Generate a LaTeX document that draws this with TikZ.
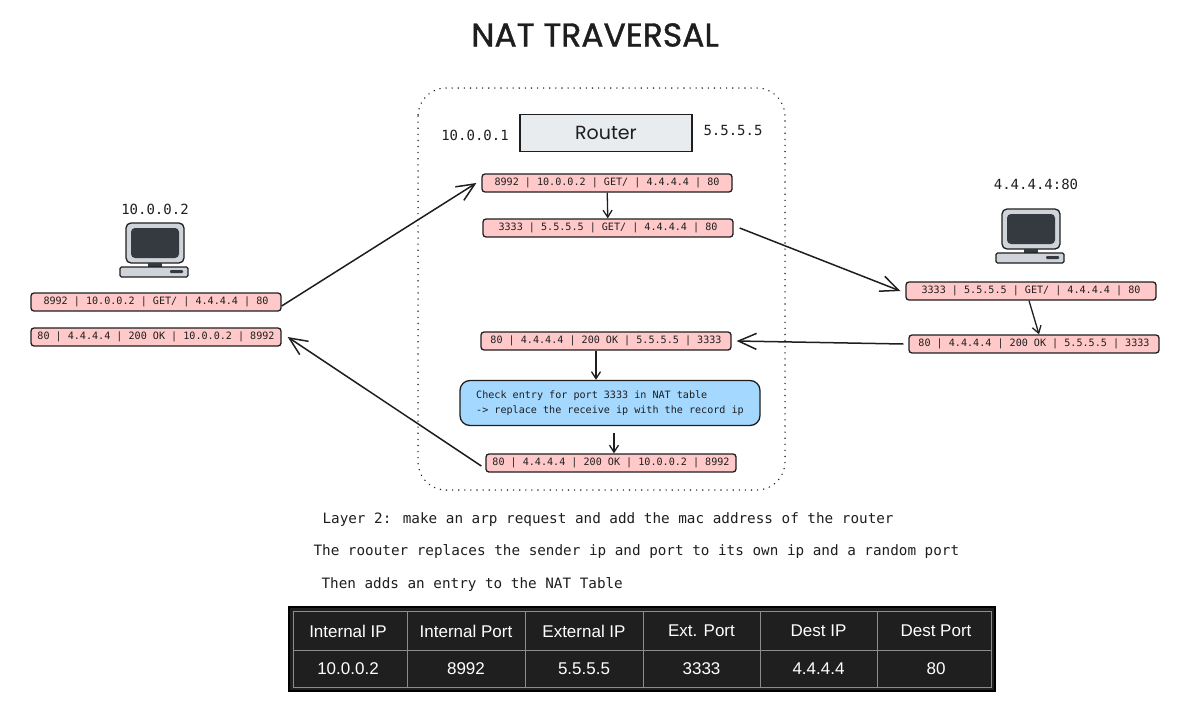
\documentclass[tikz,border=0pt]{standalone}
\usepackage{fontspec}
\setmainfont{Liberation Sans}
\newfontfamily\monofont{DejaVu Sans Mono}
\newfontfamily\handfont{Poppins}
\newfontfamily\titlefont[FakeBold=1.2]{Poppins}
\usetikzlibrary{arrows.meta,positioning}

\definecolor{ink}{HTML}{1E1E1E}
\definecolor{pktpink}{HTML}{FFC9C9}
\definecolor{notebl}{HTML}{A5D8FF}
\definecolor{routergr}{HTML}{E9ECEF}
\definecolor{screengr}{HTML}{343A40}
\definecolor{bodygr}{HTML}{CED4DA}
\definecolor{tabbg}{HTML}{1F1F1F}
\definecolor{tabline}{HTML}{8C8C8C}

\tikzset{
    pkt/.style={draw=ink, fill=pktpink, line width=1.3pt, rounded corners=3pt,
        minimum width=250pt, minimum height=18pt, inner xsep=4pt, inner ysep=0pt,
        font=\monofont\fontsize{10.1}{12}\selectfont, text=ink},
    ipl/.style={font=\monofont\fontsize{14}{16}\selectfont, text=ink},
    note/.style={font=\monofont\fontsize{14.3}{17}\selectfont, text=ink, anchor=west},
    tabtext/.style={font=\fontsize{17}{20}\selectfont, text=white},
    flow/.style={draw=ink, line width=1.5pt,
        -{Straight Barb[length=18pt,width=16pt,line width=1.5pt]}},
    hop/.style={draw=ink, line width=1.3pt,
        -{Straight Barb[length=7pt,width=9pt,line width=1.3pt]}},
    computer/.pic={
        \draw[ink, fill=bodygr, line width=1.3pt, rounded corners=5pt] (-29,0) rectangle (29,40);
        \fill[screengr, rounded corners=4pt] (-24,5) rectangle (24,35);
        \fill[screengr] (-7,40) rectangle (7,44);
        \draw[ink, fill=bodygr, line width=1.3pt, rounded corners=1.5pt] (-35,44) rectangle (33,54);
        \fill[screengr, rounded corners=1pt] (15,47) rectangle (28,50);
    }
}

\begin{document}
\begin{tikzpicture}[x=1pt,y=-1pt]
    \useasboundingbox (0,0) rectangle (1200,707);

    \node[font=\titlefont\fontsize{33}{38}\selectfont, text=ink] (title) at (595,35) {NAT TRAVERSAL};

    \draw[ink, line width=1.5pt, dash pattern=on 0.1pt off 6pt, line cap=round, rounded corners=28pt] (418,88) rectangle (785,490);

    \node[draw=ink, fill=routergr, line width=1.2pt, minimum width=172pt, minimum height=37pt,
        font=\handfont\fontsize{19}{22}\selectfont, text=ink] (router) at (606,133) {Router};
    \node[ipl] (lanip) at (475,135) {10.0.0.1};
    \node[ipl] (wanip) at (733,130) {5.5.5.5};

    \pic at (155,223) {computer};
    \pic at (1031,209) {computer};
    \node[ipl] (clientip) at (155,209) {10.0.0.2};
    \node[ipl] (serverip) at (1036,184) {4.4.4.4:80};

    \node[pkt] (creq) at (156,302) {8992 | 10.0.0.2 | GET/ | 4.4.4.4 | 80};
    \node[pkt] (cres) at (156,337) {80 | 4.4.4.4 | 200 OK | 10.0.0.2 | 8992};

    \node[pkt] (rin) at (607,183) {8992 | 10.0.0.2 | GET/ | 4.4.4.4 | 80};
    \node[pkt] (rout) at (608,228) {3333 | 5.5.5.5 | GET/ | 4.4.4.4 | 80};
    \node[pkt] (rback) at (606,341) {80 | 4.4.4.4 | 200 OK | 5.5.5.5 | 3333};
    \node[draw=ink, fill=notebl, line width=1.3pt, rounded corners=10pt, minimum width=300pt,
        minimum height=45pt, align=left, font=\monofont\fontsize{10.1}{15}\selectfont, text=ink]
        (check) at (610,403) {Check entry for port 3333 in NAT table\\ -> replace the receive ip with the record ip};
    \node[pkt] (rfwd) at (611,463) {80 | 4.4.4.4 | 200 OK | 10.0.0.2 | 8992};

    \node[pkt] (sreq) at (1031,291) {3333 | 5.5.5.5 | GET/ | 4.4.4.4 | 80};
    \node[pkt] (sres) at (1034,344) {80 | 4.4.4.4 | 200 OK | 5.5.5.5 | 3333};

    \draw[flow] ([yshift=-4pt]creq.east) -- ([xshift=-5pt]rin.west);
    \draw[hop] (rin) -- (rout);
    \draw[flow] ([xshift=6pt]rout.east) -- ([xshift=-5pt]sreq.west);
    \draw[hop] ([xshift=-2pt]sreq.south) -- ([xshift=5pt]sres.north);
    \draw[flow] ([xshift=-5pt]sres.west) -- ([xshift=5pt]rback.east);
    \draw[hop] ([xshift=-10pt]rback.south) -- ([xshift=-14pt]check.north);
    \draw[hop] ([xshift=4pt,yshift=-7pt]check.south) -- ([xshift=3pt]rfwd.north);
    \draw[flow] ([xshift=-4pt,yshift=-3pt]rfwd.west) -- ([xshift=6pt]cres.east);

    \node[note] (arp) at (319,520) {Layer 2: make an arp request and add the mac address of the router};
    \node[note] (rewrite) at (310,552) {The roouter replaces the sender ip and port to its own ip and a random port};
    \node[note] (entry) at (318,585) {Then adds an entry to the NAT Table};

    \fill[tabbg] (289,607) rectangle (995,691);
    \draw[black, line width=2.5pt] (289,607) rectangle (995,691);
    \draw[tabline, line width=1pt] (293,611) rectangle (991,687);
    \draw[tabline, line width=1pt] (293,650) -- (991,650);
    \foreach \cx in {407,525,643,760,877}
        \draw[tabline, line width=1pt] (\cx,611) -- (\cx,687);
    \foreach \cx/\head/\val [count=\i] in {348/Internal IP/10.0.0.2, 466/Internal Port/8992,
        584/External IP/5.5.5.5, 701.5/Ext. Port/3333, 818.5/Dest IP/4.4.4.4, 936/Dest Port/80}{
        \node[tabtext] (head\i) at (\cx,631) {\head};
        \node[tabtext] (cell\i) at (\cx,669) {\val};
    }
\end{tikzpicture}
\end{document}
